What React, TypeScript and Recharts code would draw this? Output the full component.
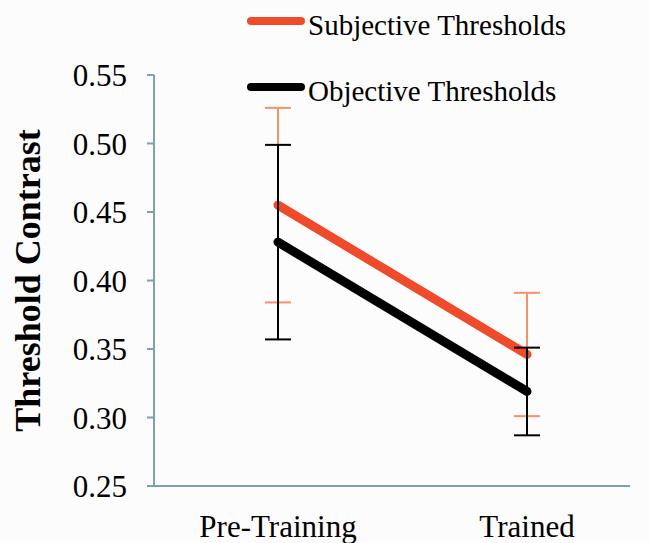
import React from 'react';
import { LineChart, Line, XAxis, YAxis, ErrorBar, Label } from 'recharts';

document.body.style.margin = '0';

const categories = ['Pre-Training', 'Trained'];
const subjective = [0.455, 0.346];
const subjectiveErr = [0.071, 0.045];
const objective = [0.428, 0.319];
const objectiveErr = [0.071, 0.032];
const yTicks = [0.25, 0.3, 0.35, 0.4, 0.45, 0.5, 0.55];

const SERIES = [
  { key: 'subjective', name: 'Subjective Thresholds', color: '#ef4b2b', errColor: '#f6906f' },
  { key: 'objective', name: 'Objective Thresholds', color: '#000000', errColor: '#000000' },
];

const data = categories.map((name, i) => ({
  name,
  subjective: subjective[i],
  subjectiveErr: subjectiveErr[i],
  objective: objective[i],
  objectiveErr: objectiveErr[i],
}));

const FONT = '"Liberation Serif", "Times New Roman", serif';
const AXIS = '#7fa0ad';

const YTitle = (props: any) => {
  const { viewBox } = props;
  const x = viewBox.x + 28;
  const y = viewBox.y + viewBox.height / 2;
  return (
    <text
      x={x}
      y={y}
      transform={`rotate(-90, ${x}, ${y})`}
      textAnchor="middle"
      dominantBaseline="central"
      fontFamily={FONT}
      fontWeight="bold"
      fontSize={36}
      fill="#000"
    >
      Threshold Contrast
    </text>
  );
};

export default function App() {
  return (
    <div style={{ position: 'relative', width: 649, height: 543, background: '#fcfcfd' }}>
      <LineChart
        width={649}
        height={543}
        data={data}
        margin={{ top: 75, right: 19, bottom: 0, left: 0 }}
      >
        <XAxis
          dataKey="name"
          height={57}
          padding={{ left: 124, right: 103 }}
          stroke={AXIS}
          strokeWidth={2}
          tickLine={false}
          tickSize={0}
          tickMargin={29}
          tick={{ fill: '#000', fontFamily: FONT, fontSize: 31 }}
        />
        <YAxis
          width={154}
          domain={[0.25, 0.55]}
          ticks={yTicks}
          interval={0}
          tickFormatter={(v: number) => v.toFixed(2)}
          stroke={AXIS}
          strokeWidth={2}
          tickSize={7}
          tickMargin={20}
          tick={{ fill: '#000', fontFamily: FONT, fontSize: 31 }}
        >
          <Label content={<YTitle />} />
        </YAxis>
        {SERIES.map((s) => (
          <Line
            key={s.key}
            dataKey={s.key}
            name={s.name}
            stroke={s.color}
            strokeWidth={9}
            strokeLinecap="round"
            dot={false}
            activeDot={false}
            isAnimationActive={false}
          >
            <ErrorBar
              dataKey={`${s.key}Err`}
              width={13}
              stroke={s.errColor}
              strokeWidth={2}
              direction="y"
              isAnimationActive={false}
            />
          </Line>
        ))}
      </LineChart>
      <div style={{ position: 'absolute', left: 0, top: 0, fontFamily: FONT, fontSize: 29 }}>
        {SERIES.map((s, i) => (
          <div
            key={s.key}
            style={{ position: 'absolute', left: 247, top: 5 + i * 66, display: 'flex', alignItems: 'center', whiteSpace: 'nowrap' }}
          >
            <span style={{ display: 'inline-block', width: 58, height: 8, borderRadius: 4, background: s.color, marginRight: 3, marginTop: -8 }} />
            <span style={{ color: '#000', lineHeight: '40px' }}>{s.name}</span>
          </div>
        ))}
      </div>
    </div>
  );
}
